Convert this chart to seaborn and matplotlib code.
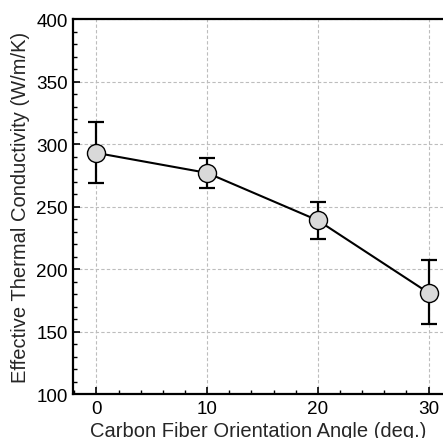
import numpy as np
import pandas as pd
import matplotlib
matplotlib.use('Agg')
import matplotlib.pyplot as plt
from matplotlib.ticker import MultipleLocator
import seaborn as sns

# data
angles = [0, 10, 20, 30]
conductivity = [293, 277, 239, 181]
err_upper = [318, 289, 254, 207]
err_lower = [269, 265, 224, 156]

df = pd.DataFrame({"angle": angles, "k": conductivity})

sns.set_theme(style="white")
plt.rcParams['font.family'] = ['Liberation Sans', 'DejaVu Sans']

fig = plt.figure(figsize=(4.43, 4.39), dpi=100)
ax = fig.add_axes([0.165, 0.1, 0.835, 0.854])

yerr = [np.array(conductivity) - np.array(err_lower),
        np.array(err_upper) - np.array(conductivity)]
ax.errorbar(angles, conductivity, yerr=yerr, fmt='none', ecolor='black',
            elinewidth=1.6, capsize=6, capthick=1.6, zorder=2)
sns.lineplot(data=df, x="angle", y="k", ax=ax, color='black', linewidth=1.5,
             marker='o', markersize=13, markerfacecolor='#d9d9d9',
             markeredgecolor='black', markeredgewidth=1.0, zorder=3)

ax.set_xlim(-2.1, 31.3)
ax.set_ylim(100, 400)
ax.xaxis.set_major_locator(MultipleLocator(10))
ax.xaxis.set_minor_locator(MultipleLocator(2))
ax.yaxis.set_major_locator(MultipleLocator(50))
ax.yaxis.set_minor_locator(MultipleLocator(10))

ax.grid(True, which='major', linestyle=(0, (3, 2)), color='#bdbdbd', linewidth=0.8)
ax.tick_params(which='both', direction='in', colors='black', labelsize=13.6,
               bottom=True, left=True, top=False, right=False)
ax.tick_params(which='major', length=5, width=1.2, pad=4)
ax.tick_params(which='minor', length=3, width=1.0)

for side in ['left', 'bottom', 'top']:
    ax.spines[side].set_color('black')
    ax.spines[side].set_linewidth(1.6)
ax.spines['right'].set_visible(False)

ax.set_xlabel("Carbon Fiber Orientation Angle (deg.)", fontsize=14.5, labelpad=3)
ax.set_ylabel("Effective Thermal Conductivity (W/m/K)", fontsize=14.5, labelpad=4)

fig.savefig("out.png", dpi=100)
